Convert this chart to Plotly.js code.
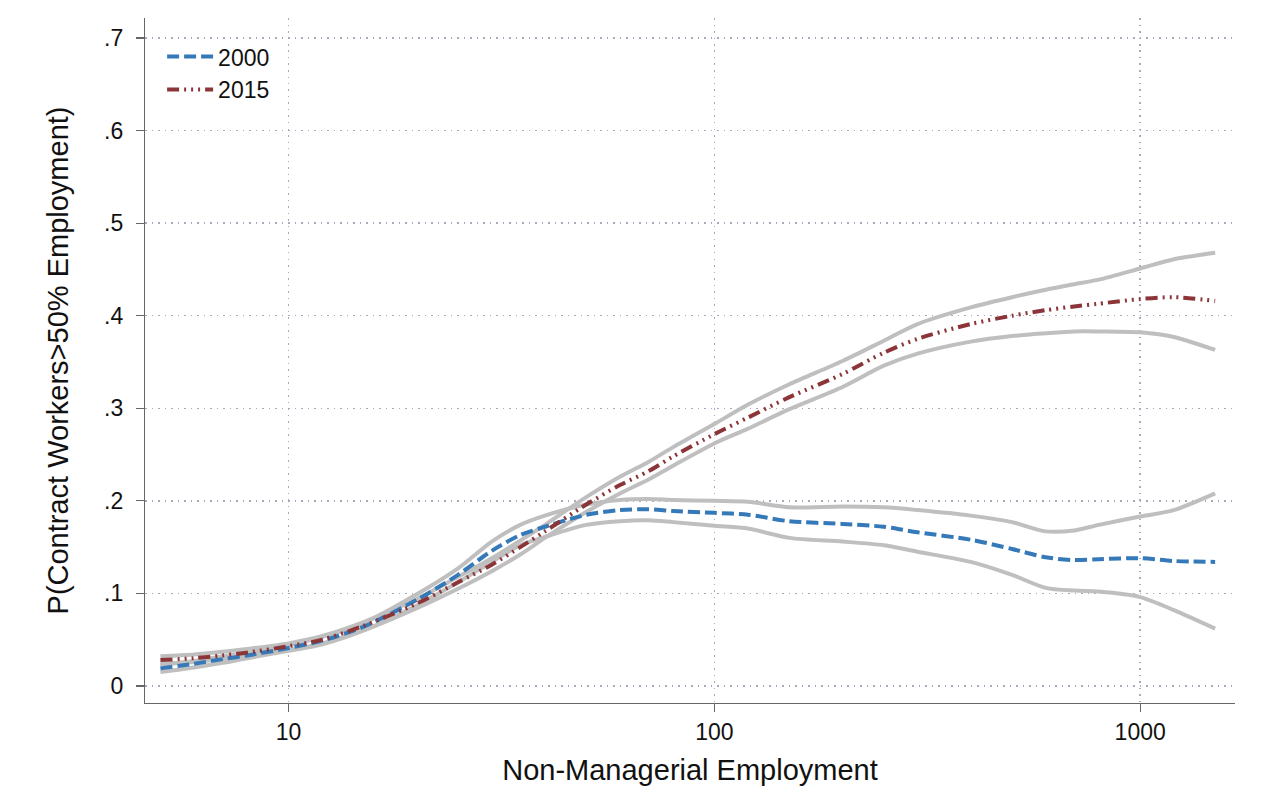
<!DOCTYPE html>
<html>
<head>
<meta charset="utf-8">
<script src="https://cdn.plot.ly/plotly-3.0.1.min.js"></script>
<style>html,body{margin:0;padding:0;background:#fff;}#chart{width:1264px;height:803px;}</style>
</head>
<body>
<div id="chart"></div>
<script>
// Non-managerial employment (x, log scale)
const employment = [5, 6, 7, 8, 10, 12, 15, 20, 25, 30, 35, 40, 50, 60, 70, 80, 100, 120, 150, 200, 250, 300, 400, 500, 600, 700, 800, 1000, 1200, 1500];

// 2000
const p2000 = [0.019, 0.024, 0.029, 0.033, 0.041, 0.049, 0.064, 0.093, 0.120, 0.146, 0.163, 0.172, 0.185, 0.190, 0.191, 0.189, 0.187, 0.185, 0.178, 0.175, 0.172, 0.166, 0.158, 0.148, 0.139, 0.136, 0.137, 0.138, 0.135, 0.134];
const p2000Upper = [0.023, 0.027, 0.032, 0.036, 0.044, 0.053, 0.068, 0.099, 0.127, 0.156, 0.174, 0.184, 0.196, 0.201, 0.202, 0.201, 0.200, 0.199, 0.193, 0.194, 0.193, 0.190, 0.184, 0.177, 0.167, 0.168, 0.174, 0.183, 0.190, 0.208];
const p2000Lower = [0.015, 0.020, 0.025, 0.030, 0.038, 0.045, 0.060, 0.087, 0.112, 0.134, 0.152, 0.161, 0.174, 0.178, 0.179, 0.177, 0.173, 0.170, 0.160, 0.156, 0.152, 0.145, 0.134, 0.120, 0.106, 0.103, 0.102, 0.096, 0.082, 0.062];

// 2015
const p2015 = [0.028, 0.030, 0.033, 0.036, 0.043, 0.050, 0.065, 0.089, 0.112, 0.131, 0.150, 0.167, 0.196, 0.217, 0.232, 0.248, 0.272, 0.290, 0.312, 0.337, 0.360, 0.375, 0.391, 0.400, 0.406, 0.410, 0.413, 0.418, 0.420, 0.416];
const p2015Upper = [0.032, 0.034, 0.037, 0.040, 0.046, 0.054, 0.069, 0.094, 0.118, 0.138, 0.157, 0.174, 0.204, 0.226, 0.242, 0.258, 0.283, 0.304, 0.326, 0.351, 0.373, 0.391, 0.409, 0.420, 0.428, 0.434, 0.439, 0.451, 0.461, 0.468];
const p2015Lower = [0.024, 0.026, 0.029, 0.033, 0.039, 0.046, 0.060, 0.084, 0.105, 0.124, 0.142, 0.160, 0.188, 0.208, 0.223, 0.238, 0.262, 0.278, 0.299, 0.323, 0.346, 0.359, 0.372, 0.378, 0.381, 0.383, 0.383, 0.382, 0.377, 0.363];

const yTickVals = [0, 0.1, 0.2, 0.3, 0.4, 0.5, 0.6, 0.7];
const yTickText = ['0', '.1', '.2', '.3', '.4', '.5', '.6', '.7'];
const xTickVals = [10, 100, 1000];
const xTickText = ['10', '100', '1000'];

const ciStyle = {color: '#bfbfbf', width: 4, shape: 'spline', smoothing: 0.8};
function ci(y) {
  return {x: employment, y: y, type: 'scatter', mode: 'lines', line: ciStyle, showlegend: false, hoverinfo: 'skip'};
}

const traces = [
  ci(p2000Upper), ci(p2000Lower), ci(p2015Upper), ci(p2015Lower),
  {x: employment, y: p2000, type: 'scatter', mode: 'lines', name: '2000',
   line: {color: '#3579b8', width: 4, dash: '12px,5px', shape: 'spline', smoothing: 0.8}},
  {x: employment, y: p2015, type: 'scatter', mode: 'lines', name: '2015',
   line: {color: '#8c3538', width: 4, dash: '12px,5px,2px,5px,2px,5px,2px,5px', shape: 'spline', smoothing: 0.8}}
];

const font = "'Liberation Sans', Arial, Helvetica, sans-serif";
const gridColor = '#a9a9bd';

const layout = {
  width: 1264, height: 803,
  margin: {l: 145, r: 29, t: 18, b: 100},
  paper_bgcolor: '#ffffff', plot_bgcolor: '#ffffff',
  font: {family: font, size: 23, color: '#111'},
  showlegend: true,
  legend: {x: 0.0157, y: 0.975, xanchor: 'left', yanchor: 'top', bgcolor: 'rgba(0,0,0,0)',
           font: {size: 23, color: '#111', family: font}, tracegroupgap: 8, itemwidth: 46},
  xaxis: {
    type: 'log', range: [Math.log10(4.6), Math.log10(1670)],
    tickvals: xTickVals, ticktext: xTickText,
    showline: true, linecolor: '#666', linewidth: 1.2,
    ticks: 'outside', ticklen: 8, tickcolor: '#666', tickwidth: 1.2,
    ticklabelstandoff: 0,
    showgrid: true, gridcolor: gridColor, gridwidth: 1.5, griddash: '1.5px,5px',
    zeroline: false, tickfont: {size: 23},
    title: {text: 'Non-Managerial Employment', font: {size: 29, family: font}, standoff: 16},
    automargin: false
  },
  yaxis: {
    range: [-0.0184, 0.7216],
    tickvals: yTickVals, ticktext: yTickText,
    showline: true, linecolor: '#666', linewidth: 1.2,
    ticks: 'outside', ticklen: 8, tickcolor: '#666', tickwidth: 1.2,
    ticklabelstandoff: 8,
    showgrid: true, gridcolor: gridColor, gridwidth: 1.5, griddash: '1.5px,5px',
    zeroline: false, tickfont: {size: 23},
    title: {text: 'P(Contract Workers>50% Employment)', font: {size: 29, family: font}, standoff: 26},
    automargin: false
  }
};

Plotly.newPlot('chart', traces, layout, {displayModeBar: false, staticPlot: true});
</script>
</body>
</html>
